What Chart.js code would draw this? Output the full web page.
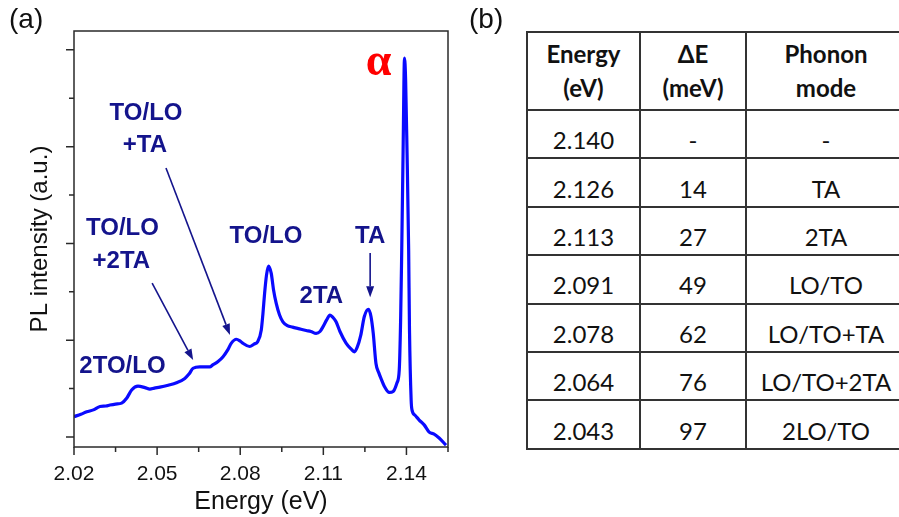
<!DOCTYPE html>
<html>
<head>
<meta charset="utf-8">
<script src="https://cdn.jsdelivr.net/npm/chart.js@4.4.1/dist/chart.umd.min.js"></script>
<style>
  html, body { margin: 0; padding: 0; background: #fff; }
  body { width: 899px; height: 517px; position: relative; overflow: hidden; }
  #chartBox { position: absolute; left: 0; top: 0; width: 470px; height: 517px; }
  #panelA { position: absolute; left: 9px; top: 3px; font: 28px 'Liberation Sans', Arial, sans-serif; color: #111; }
  #panelB { position: absolute; left: 469px; top: 3px; font: 28px 'Liberation Sans', Arial, sans-serif; color: #111; }
  #tbl { position: absolute; left: 526px; top: 31px; width: 379px; border-collapse: collapse; font-family: Lato, 'Open Sans', sans-serif; color: #111; table-layout: fixed; }
  #tbl td, #tbl th { border: 2px solid #333; text-align: center; vertical-align: middle; padding: 0; }
  #tbl th { font-weight: bold; font-size: 24px; line-height: 34px; height: 78px; box-sizing: border-box; }
  #tbl td { font-size: 24px; height: 48.4px; padding-top: 11px; box-sizing: border-box; }
</style>
</head>
<body>
<div id="chartBox"><canvas id="c" width="470" height="517"></canvas></div>
<div id="panelA">(a)</div>
<div id="panelB">(b)</div>
<table id="tbl"></table>
<script>
// ---------------- data ----------------
const energy = [
  2.0200, 2.0225, 2.0246, 2.0270, 2.0294, 2.0315, 2.0330, 2.0350, 2.0372, 2.0390,
  2.0408, 2.0431, 2.0456, 2.0474, 2.0490, 2.0510, 2.0540, 2.0570, 2.0600, 2.0615,
  2.0630, 2.0654, 2.0690, 2.0701, 2.0720, 2.0738, 2.0755, 2.0768, 2.0786, 2.0800,
  2.0809, 2.0834, 2.0850, 2.0863, 2.0876, 2.0882, 2.0888, 2.0895, 2.0902, 2.0912,
  2.0920, 2.0930, 2.0942, 2.0954, 2.0970, 2.0989, 2.1010, 2.1038, 2.1055, 2.1074,
  2.1088, 2.1098, 2.1112, 2.1124, 2.1135, 2.1146, 2.1160, 2.1182, 2.1200, 2.1212,
  2.1222, 2.1235, 2.1248, 2.1263, 2.1272, 2.1280, 2.1290, 2.1300, 2.1308, 2.1320,
  2.1338, 2.1352, 2.1366, 2.1374, 2.1379, 2.1383, 2.1388, 2.1393, 2.1397, 2.1402,
  2.1408, 2.1411, 2.1417, 2.1420, 2.1431, 2.1446, 2.1464, 2.1482, 2.1500, 2.1518,
  2.1543
];
const intensity = [
  0.42, 0.47, 0.52, 0.56, 0.63, 0.64, 0.66, 0.68, 0.70, 0.80,
  0.97, 1.05, 1.02, 0.99, 1.01, 1.03, 1.07, 1.12, 1.21, 1.30,
  1.42, 1.45, 1.45, 1.49, 1.56, 1.66, 1.80, 1.94, 2.02, 1.98,
  1.94, 1.87, 1.92, 1.97, 2.21, 2.55, 2.97, 3.35, 3.53, 3.38,
  3.05, 2.76, 2.52, 2.38, 2.30, 2.27, 2.24, 2.20, 2.18, 2.14,
  2.18, 2.27, 2.42, 2.52, 2.47, 2.38, 2.18, 1.94, 1.82, 1.76,
  1.85, 2.10, 2.49, 2.64, 2.49, 2.15, 1.52, 1.33, 1.21, 1.05,
  0.92, 0.94, 1.12, 1.38, 2.42, 3.86, 5.93, 7.83, 7.38, 5.93,
  3.86, 2.21, 0.76, 0.56, 0.45, 0.35, 0.25, 0.10, 0.06, -0.02,
  -0.17
];
const xMajorTicks = [2.02, 2.05, 2.08, 2.11, 2.14];
const xMinorTicks = [2.035, 2.065, 2.095, 2.125, 2.155];
const yMajorTicks = [0, 2, 4, 6, 8];
const yMinorTicks = [1, 3, 5, 7];

// peak annotations: text lines and the (energy, intensity) where each baseline sits
const peakLabels = ['TO/LO', '+TA', 'TO/LO', '+2TA', '2TO/LO', 'TO/LO', '2TA', 'TA'];
const peakLabelE = [2.0460, 2.0456, 2.0375, 2.0371, 2.0375, 2.0893, 2.1093, 2.1269];
const peakLabelI = [6.55, 5.89, 4.17, 3.49, 1.32, 4.01, 2.77, 4.01];
// arrows: from (E,I) to (E,I)
const arrowFromE = [2.0532, 2.0482, 2.1269];
const arrowFromI = [5.56, 3.18, 3.80];
const arrowToE = [2.0763, 2.0630, 2.1269];
const arrowToI = [2.11, 1.59, 2.89];
const alphaLabel = 'α';
const alphaE = 2.1299, alphaI = 7.48;

// table (b)
const tableHeader = [['Energy', '(eV)'], ['ΔE', '(meV)'], ['Phonon', 'mode']];
const tableEnergy = ['2.140', '2.126', '2.113', '2.091', '2.078', '2.064', '2.043'];
const tableDeltaE = ['-', '14', '27', '49', '62', '76', '97'];
const tablePhonon = ['-', 'TA', '2TA', 'LO/TO', 'LO/TO+TA', 'LO/TO+2TA', '2LO/TO'];

// ---------------- table ----------------
(function buildTable() {
  const t = document.getElementById('tbl');
  const cg = document.createElement('colgroup');
  [113, 106, 160].forEach(w => { const c = document.createElement('col'); c.style.width = w + 'px'; cg.appendChild(c); });
  t.appendChild(cg);
  const hr = document.createElement('tr');
  tableHeader.forEach(h => { const th = document.createElement('th'); th.innerHTML = h.join('<br>'); hr.appendChild(th); });
  t.appendChild(hr);
  tableEnergy.forEach((e, i) => {
    const tr = document.createElement('tr');
    [e, tableDeltaE[i], tablePhonon[i]].forEach(v => { const td = document.createElement('td'); td.textContent = v; tr.appendChild(td); });
    t.appendChild(tr);
  });
})();

// ---------------- chart ----------------
const NAVY = '#14148c';
const frameAndTicks = {
  id: 'frameAndTicks',
  afterDraw(chart) {
    const {ctx, chartArea: a, scales: {x, y}} = chart;
    ctx.save();
    ctx.strokeStyle = '#2a2a2a';
    ctx.lineWidth = 1.5;
    ctx.strokeRect(a.left, a.top, a.right - a.left, a.bottom - a.top);
    ctx.beginPath();
    xMajorTicks.forEach(v => { const p = x.getPixelForValue(v); ctx.moveTo(p, a.bottom); ctx.lineTo(p, a.bottom + 8); });
    xMinorTicks.forEach(v => { const p = x.getPixelForValue(v); ctx.moveTo(p, a.bottom); ctx.lineTo(p, a.bottom + 5); });
    yMajorTicks.forEach(v => { const p = y.getPixelForValue(v); ctx.moveTo(a.left, p); ctx.lineTo(a.left - 8, p); });
    yMinorTicks.forEach(v => { const p = y.getPixelForValue(v); ctx.moveTo(a.left, p); ctx.lineTo(a.left - 5, p); });
    ctx.stroke();
    ctx.restore();
  }
};
const annotations = {
  id: 'annotations',
  afterDatasetsDraw(chart) {
    const {ctx, scales: {x, y}} = chart;
    ctx.save();
    ctx.fillStyle = NAVY;
    ctx.font = "bold 24px 'Liberation Sans', Arial, sans-serif";
    ctx.textAlign = 'center';
    ctx.textBaseline = 'alphabetic';
    peakLabels.forEach((t, i) => ctx.fillText(t, x.getPixelForValue(peakLabelE[i]), y.getPixelForValue(peakLabelI[i])));
    ctx.strokeStyle = NAVY;
    ctx.lineWidth = 1.6;
    arrowFromE.forEach((e, i) => {
      const x0 = x.getPixelForValue(e), y0 = y.getPixelForValue(arrowFromI[i]);
      const x1 = x.getPixelForValue(arrowToE[i]), y1 = y.getPixelForValue(arrowToI[i]);
      const ang = Math.atan2(y1 - y0, x1 - x0), L = 11, W = 4;
      const bx = x1 - L * Math.cos(ang), by = y1 - L * Math.sin(ang);
      ctx.beginPath(); ctx.moveTo(x0, y0); ctx.lineTo(bx, by); ctx.stroke();
      ctx.beginPath();
      ctx.moveTo(x1, y1);
      ctx.lineTo(bx + W * Math.sin(ang), by - W * Math.cos(ang));
      ctx.lineTo(bx - W * Math.sin(ang), by + W * Math.cos(ang));
      ctx.closePath(); ctx.fill();
    });
    ctx.fillStyle = '#ff0000';
    ctx.font = "bold 46px 'Liberation Serif', 'Times New Roman', serif";
    ctx.fillText(alphaLabel, x.getPixelForValue(alphaE), y.getPixelForValue(alphaI));
    ctx.restore();
  }
};

new Chart(document.getElementById('c'), {
  type: 'line',
  data: {
    datasets: [{
      data: energy.map((e, i) => ({x: e, y: intensity[i]})),
      borderColor: '#0a0aff',
      borderWidth: 3.2,
      pointRadius: 0,
      fill: false,
      cubicInterpolationMode: 'monotone'
    }]
  },
  options: {
    responsive: false,
    animation: false,
    devicePixelRatio: 1,
    layout: { padding: { left: 0, top: 31, right: 22, bottom: 0 } },
    plugins: { legend: { display: false }, tooltip: { enabled: false } },
    scales: {
      x: {
        type: 'linear', min: 2.02, max: 2.155,
        afterBuildTicks: s => { s.ticks = xMajorTicks.map(v => ({value: v})); },
        afterFit: s => { s.height = 70; },
        grid: { display: false, drawTicks: false },
        border: { display: false },
        ticks: { autoSkip: false, maxRotation: 0, padding: 15, color: '#111',
                 font: { family: "'Liberation Sans', Arial, sans-serif", size: 21 },
                 callback: v => Number(v).toFixed(2) },
        title: { display: true, text: 'Energy (eV)', color: '#111', padding: { top: 0, bottom: 0 },
                 font: { family: "'Liberation Sans', Arial, sans-serif", size: 25 } }
      },
      y: {
        type: 'linear', min: -0.207, max: 8.39,
        afterFit: s => { s.width = 74; },
        grid: { display: false, drawTicks: false },
        border: { display: false },
        ticks: { display: false },
        title: { display: true, text: 'PL intensity (a.u.)', color: '#111', padding: { top: 26, bottom: 0 },
                 font: { family: "'Liberation Sans', Arial, sans-serif", size: 24 } }
      }
    }
  },
  plugins: [frameAndTicks, annotations]
});
</script>
</body>
</html>
